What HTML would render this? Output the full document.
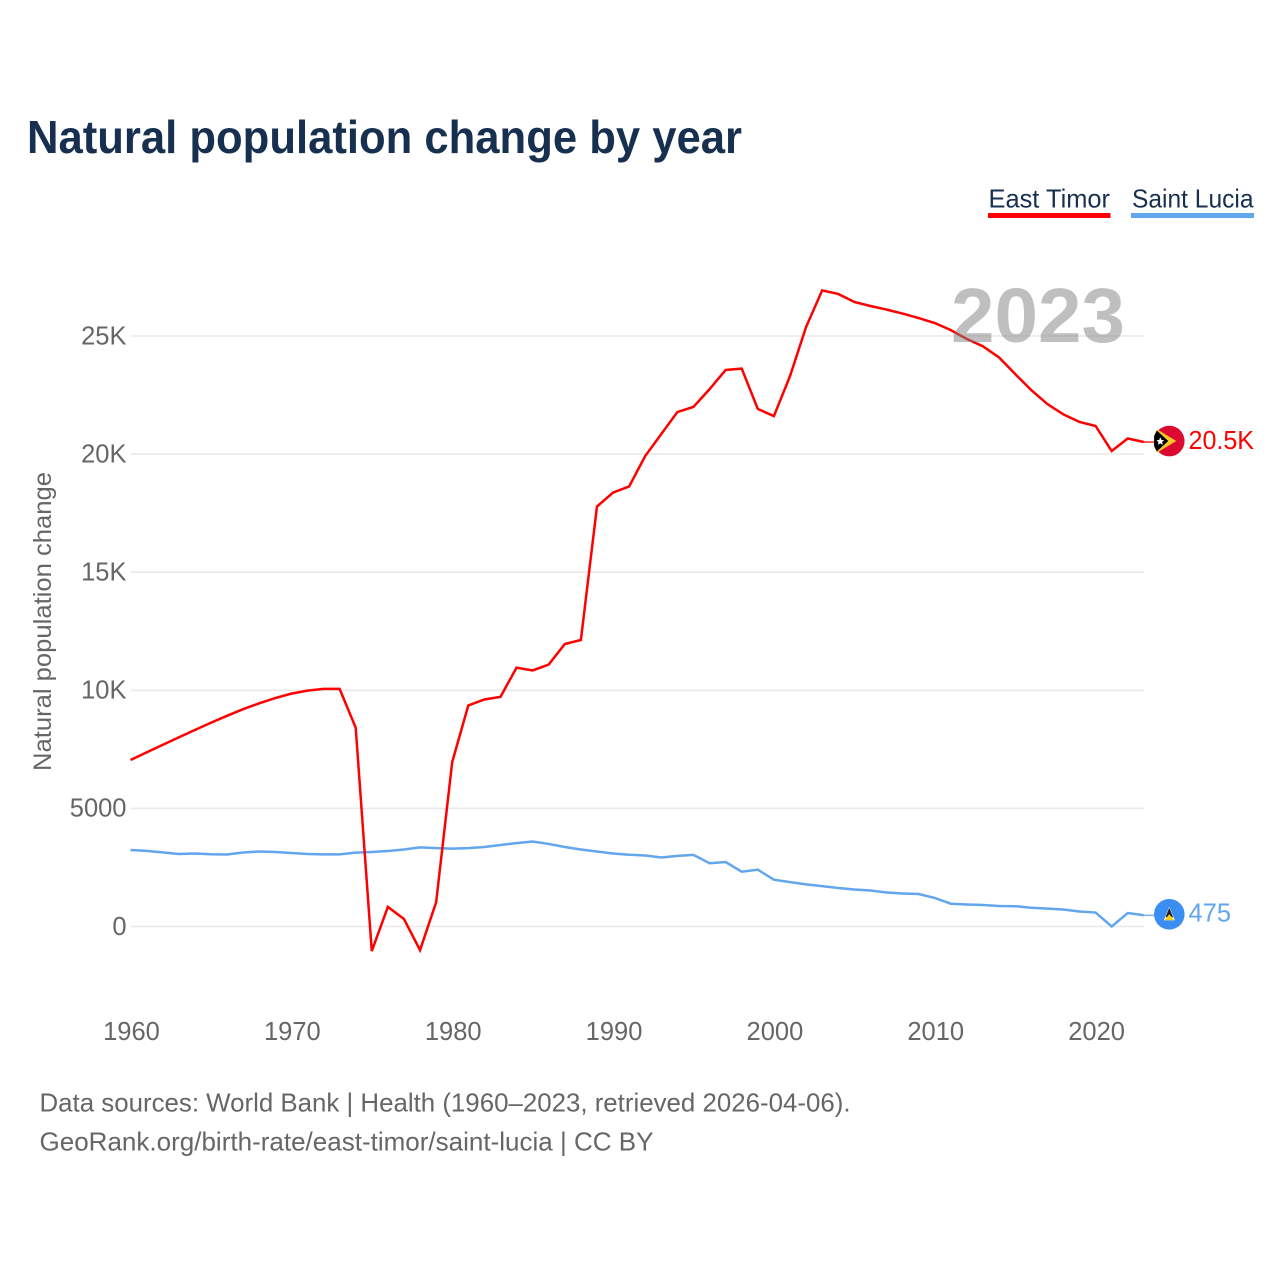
<!DOCTYPE html>
<html lang="en">
<head>
<meta charset="utf-8">
<title>Natural population change by year</title>
<style>
html,body{margin:0;padding:0;background:#fff;}
svg{display:block;}
text{font-family:"Liberation Sans",sans-serif;}
</style>
</head>
<body>
<svg id="chart" width="1280" height="1280" viewBox="0 0 1280 1280" xmlns="http://www.w3.org/2000/svg">
  <rect x="0" y="0" width="1280" height="1280" fill="#ffffff"/>
  <text x="27" y="153" font-size="46" font-weight="700" fill="#18304f" textLength="715" lengthAdjust="spacingAndGlyphs">Natural population change by year</text>

  <g>
    <text x="988.5" y="207.5" font-size="26" fill="#18304f" textLength="121.5" lengthAdjust="spacingAndGlyphs">East Timor</text>
    <rect x="988" y="213" width="122.5" height="5" fill="#ff0000"/>
  </g>
  <g>
    <text x="1132" y="207.5" font-size="26" fill="#18304f" textLength="121.5" lengthAdjust="spacingAndGlyphs">Saint Lucia</text>
    <rect x="1131" y="213" width="123" height="5" fill="#62a6ee"/>
  </g>

  <g id="grid"></g>
  <g id="yticks"></g>
  <g id="xticks"></g>
  <text transform="translate(51,621.5) rotate(-90)" text-anchor="middle" font-size="25" fill="#666666" textLength="299" lengthAdjust="spacingAndGlyphs">Natural population change</text>

  <g id="series"></g>

  <text x="951" y="342" font-size="77" font-weight="700" fill="#808080" fill-opacity="0.5" textLength="174" lengthAdjust="spacingAndGlyphs">2023</text>

  <g id="end-markers"></g>

  <text x="39.5" y="1111.5" font-size="26" fill="#666666" textLength="811" lengthAdjust="spacingAndGlyphs">Data sources: World Bank | Health (1960–2023, retrieved 2026-04-06).</text>
  <text x="39.5" y="1150.5" font-size="26" fill="#666666" textLength="614" lengthAdjust="spacingAndGlyphs">GeoRank.org/birth-rate/east-timor/saint-lucia | CC BY</text>
</svg>

<script>
var startYear = 1960;
var xTickValues = [1960, 1970, 1980, 1990, 2000, 2010, 2020];
var yTickValues = [0, 5000, 10000, 15000, 20000, 25000];
var yTickLabels = ['0', '5000', '10K', '15K', '20K', '25K'];

var eastTimorValues = [
  7050, 7370, 7690, 8005, 8320, 8625, 8920, 9200, 9450, 9670,
  9860, 9985, 10060, 10060, 8420, -1040, 830, 320, -1000, 1020,
  6960, 9360, 9610, 9720, 10960, 10840, 11090, 11960, 12130, 17780,
  18370, 18630, 19920, 20850, 21780, 22000, 22750, 23560, 23620, 21910,
  21610, 23300, 25380, 26930, 26780, 26440, 26270, 26120, 25950, 25760,
  25550, 25250, 24870, 24560, 24090, 23390, 22710, 22120, 21680, 21360,
  21190, 20130, 20660, 20510
];
var saintLuciaValues = [
  3240, 3200, 3140, 3070, 3090, 3060, 3050, 3135, 3175, 3155,
  3110, 3070, 3055, 3055, 3130, 3155, 3195, 3260, 3350, 3320,
  3295, 3320, 3365, 3450, 3530, 3600, 3495, 3365, 3260, 3175,
  3090, 3040, 3005, 2920, 2990, 3030, 2680, 2730, 2320, 2405,
  1980, 1880, 1785, 1710, 1630, 1565, 1525, 1440, 1395, 1375,
  1210, 965, 930, 910, 870, 860, 795, 755, 720, 635,
  590, 0, 570, 475
];
var eastTimorLabel = '20.5K';
var saintLuciaLabel = '475';

var svgNS = 'http://www.w3.org/2000/svg';
function xScale(year) { return 130.5 + (year - 1960) * 16.085; }
function yScale(v) { return 926.5 - v * 0.02362; }
function make(tag, attrs, parent) {
  var el = document.createElementNS(svgNS, tag);
  for (var k in attrs) { el.setAttribute(k, attrs[k]); }
  parent.appendChild(el);
  return el;
}

var grid = document.getElementById('grid');
var yticks = document.getElementById('yticks');
var xticks = document.getElementById('xticks');
var series = document.getElementById('series');
var markers = document.getElementById('end-markers');

yTickValues.forEach(function (v, i) {
  var line = make('line', {x1: 131, x2: 1144, y1: yScale(v), y2: yScale(v), stroke: '#e9e9e9', 'stroke-width': 1.6}, grid);
  
  
  var t = make('text', {x: 126.5, y: yScale(v) + 8.3, 'text-anchor': 'end', 'font-size': 25.5, fill: '#666666'}, yticks);
  t.textContent = yTickLabels[i];
  
  
});

xTickValues.forEach(function (year) {
  var t = make('text', {x: xScale(year) + 1, y: 1040, 'text-anchor': 'middle', 'font-size': 25.5, fill: '#666666'}, xticks);
  t.textContent = String(year);
  
  
});

function drawLine(values, color) {
  var pts = values.map(function (v, i) {
    return xScale(startYear + i).toFixed(2) + ',' + yScale(v).toFixed(2);
  }).join(' ');
  return make('polyline', {points: pts, fill: 'none', stroke: color, 'stroke-width': 2.5, 'stroke-linejoin': 'miter'}, series);
}
var lineBlue = drawLine(saintLuciaValues, '#62a6ee');


var lineRed = drawLine(eastTimorValues, '#ff0000');



var lastX = xScale(startYear + eastTimorValues.length - 1);
var redY = yScale(eastTimorValues[eastTimorValues.length - 1]);
var blueY = yScale(saintLuciaValues[saintLuciaValues.length - 1]);
var flagX = 1169.3;

// East Timor marker
var connRed = make('line', {x1: lastX, x2: flagX - 15, y1: redY, y2: redY, stroke: '#ff0000', 'stroke-width': 1.6, 'stroke-opacity': 0.8}, markers);


var fr = make('g', {transform: 'translate(' + flagX + ',' + (redY - 1) + ')'}, markers);


make('circle', {cx: 0, cy: 0, r: 15.3, fill: '#dc0a30'}, fr);
make('path', {d: 'M-12,-11.5 L7,0 L-12,11.5 L-15,6 L-15,-6 Z', fill: '#ffc726'}, fr);
make('path', {d: 'M-12.5,-10.5 L-1,0 L-12.5,10.5 L-15.2,5 L-15.2,-5 Z', fill: '#000000'}, fr);
make('path', {d: 'M-9,-3.8 L-7.8,-1 L-5,-0.8 L-7.2,1 L-6.5,3.8 L-9,2.3 L-11.5,3.8 L-10.8,1 L-13,-0.8 L-10.2,-1 Z', fill: '#ffffff'}, fr);
var labelRed = make('text', {x: 1188.5, y: redY + 7, 'font-size': 25.5, fill: '#ff0000', textLength: 65.5, lengthAdjust: 'spacingAndGlyphs'}, markers);
labelRed.textContent = eastTimorLabel;



// Saint Lucia marker
var connBlue = make('line', {x1: lastX, x2: flagX - 15, y1: blueY, y2: blueY, stroke: '#62a6ee', 'stroke-width': 1.6, 'stroke-opacity': 0.8}, markers);


var fb = make('g', {transform: 'translate(' + flagX + ',' + (blueY - 1) + ')'}, markers);


make('circle', {cx: 0, cy: 0, r: 15.3, fill: '#3a8ef2'}, fb);
make('path', {d: 'M0,-7.5 L5.5,6 L-5.5,6 Z', fill: '#ffffff'}, fb);
make('path', {d: 'M0,-6.5 L3.8,3 L-3.8,3 Z', fill: '#222222'}, fb);
make('path', {d: 'M0,0 L5,6 L-5,6 Z', fill: '#fcd116'}, fb);
var labelBlue = make('text', {x: 1188.5, y: blueY + 6, 'font-size': 25.5, fill: '#62a6ee'}, markers);
labelBlue.textContent = saintLuciaLabel;


</script>
</body>
</html>
